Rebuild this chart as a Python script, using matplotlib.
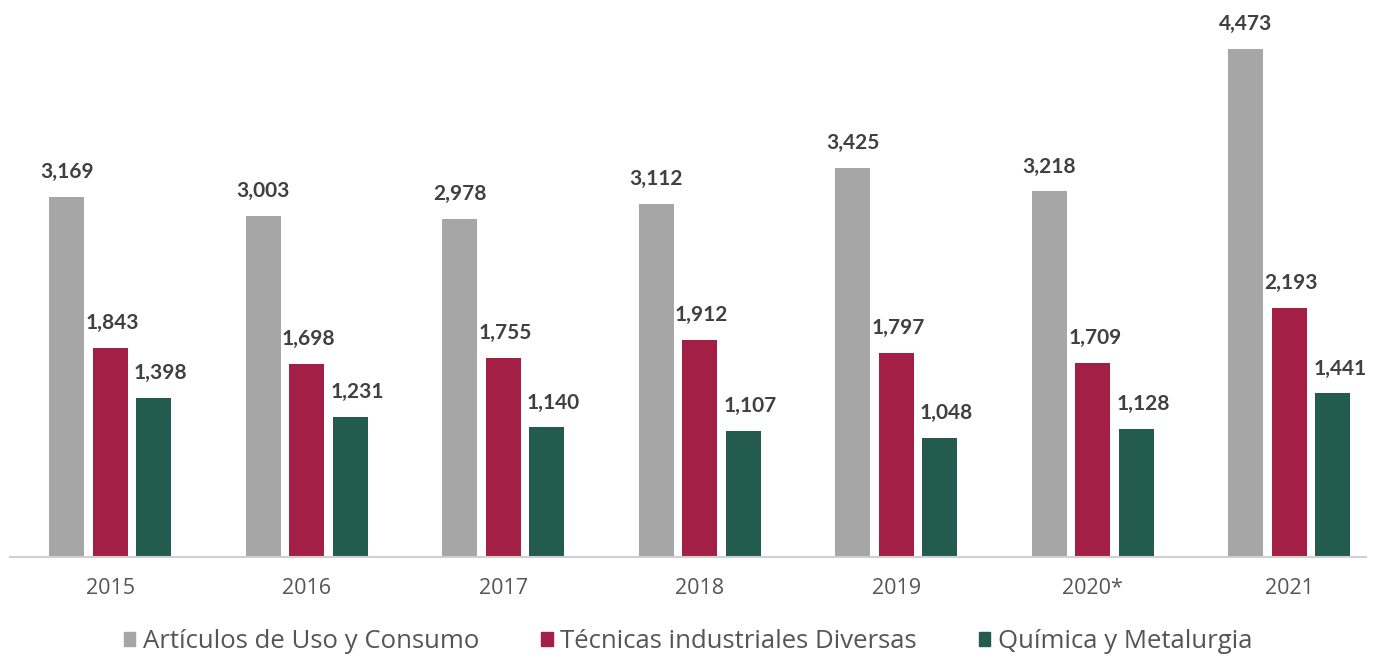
import numpy as np
import matplotlib.pyplot as plt
from matplotlib.patches import Patch

years = ['2015', '2016', '2017', '2018', '2019', '2020*', '2021']
articulos = [3169, 3003, 2978, 3112, 3425, 3218, 4473]
tecnicas = [1843, 1698, 1755, 1912, 1797, 1709, 2193]
quimica = [1398, 1231, 1140, 1107, 1048, 1128, 1441]

names = ['Artículos de Uso y Consumo', 'Técnicas industriales Diversas', 'Química y Metalurgia']
colors = ['#a6a6a6', '#a31f45', '#235b4e']

plt.rcParams['font.family'] = ['Open Sans', 'DejaVu Sans']

fig = plt.figure(figsize=(13.76, 6.56), dpi=100)
ax = fig.add_axes([10/1376, 0.151, 1356/1376, 0.849])

x = np.arange(len(years))
w = 0.178
step = 0.221
series = [articulos, tecnicas, quimica]
for i, vals in enumerate(series):
    pos = x + (i - 1) * step
    ax.bar(pos, vals, width=w, color=colors[i], label=names[i])
    for p, v in zip(pos, vals):
        dx = [0, 0.01, 0.035][i]
        ax.text(p + dx, v + 130, f'{v:,}', ha='center', va='bottom',
                fontsize=15, fontweight='bold', color='#404040',
                family=['Lato', 'DejaVu Sans'])

ax.set_xlim(-0.51, 6.39)
ax.set_ylim(0, 4904)
ax.set_xticks(x)
ax.set_xticklabels(years, fontsize=15.5, color='#555555', fontweight='medium')
ax.tick_params(axis='x', length=0, pad=15)
ax.set_yticks([])
for s in ['top', 'right', 'left']:
    ax.spines[s].set_visible(False)
ax.spines['bottom'].set_color('#d0d0d0')
ax.spines['bottom'].set_linewidth(1.5)

handles = [Patch(color=c) for c in colors]
fig.legend(handles, names, loc='lower center', bbox_to_anchor=(0.5, -0.032),
           ncol=3, frameon=False, fontsize=18.5, labelcolor='#555555',
           handlelength=0.45, handleheight=0.45, handletextpad=0.3, columnspacing=2.4)

fig.savefig('out.png', dpi=100)
